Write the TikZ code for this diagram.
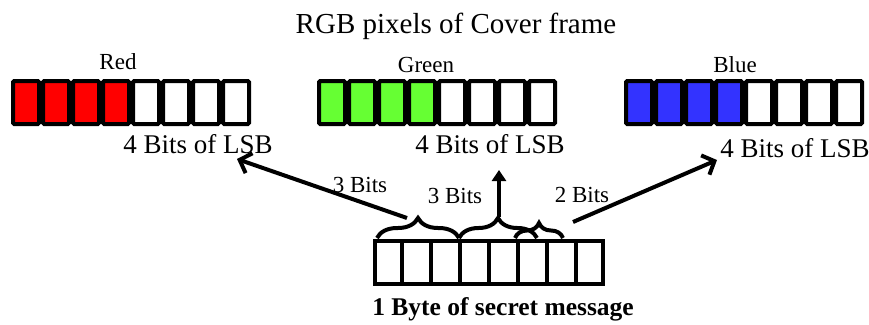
\documentclass[tikz,border=0pt]{standalone}
\usepackage{fontspec}
\setmainfont{Liberation Serif}
\usetikzlibrary{arrows.meta,decorations.pathreplacing}
\definecolor{pixred}{RGB}{255,0,0}
\definecolor{pixgreen}{RGB}{102,255,51}
\definecolor{pixblue}{RGB}{51,51,255}
\begin{document}
\begin{tikzpicture}[x=1pt,y=-1pt,
  cell/.style={draw=black, line width=4pt, rounded corners=1.2pt, inner sep=0pt,
    minimum width=26pt, minimum height=43pt},
  lbl/.style={anchor=base, inner sep=0pt},
  bitbrace/.style={decorate, line width=4pt, decoration={brace, amplitude=#1}},
  barb/.style={line width=4pt, -{Straight Barb[length=10pt,width=21pt]}},
  uparr/.style={line width=4pt, -{Triangle[length=11pt,width=14pt]}}]
\useasboundingbox (0,0) rectangle (869,324);

% title and channel labels
\node[lbl, font=\fontsize{29}{32}\selectfont] (title) at (456,33) {RGB pixels of Cover frame};
\node[lbl, font=\fontsize{23}{26}\selectfont] (red) at (118,69) {Red};
\node[lbl, font=\fontsize{23}{26}\selectfont] (green) at (426,72) {Green};
\node[lbl, font=\fontsize{23}{26}\selectfont] (blue) at (735,72) {Blue};

% pixel bars
\foreach \i in {0,...,7}{
  \ifnum\i<4
    \node[cell, fill=pixred]   (r\i) at (26+30*\i,102.5) {};
    \node[cell, fill=pixgreen] (g\i) at (332+30*\i,102.5) {};
    \node[cell, fill=pixblue]  (b\i) at (639+30*\i,102.5) {};
  \else
    \node[cell, fill=white] (r\i) at (26+30*\i,102.5) {};
    \node[cell, fill=white] (g\i) at (332+30*\i,102.5) {};
    \node[cell, fill=white] (b\i) at (639+30*\i,102.5) {};
  \fi
}

% LSB labels
\node[lbl, font=\fontsize{27}{30}\selectfont] (lsbR) at (198,153) {4 Bits of LSB};
\node[lbl, font=\fontsize{27}{30}\selectfont] (lsbG) at (490,153) {4 Bits of LSB};
\node[lbl, font=\fontsize{27}{30}\selectfont] (lsbB) at (795,157) {4 Bits of LSB};

% secret byte
\node[draw, line width=4pt, inner sep=0pt, minimum width=228pt, minimum height=43pt] (byte) at (489,262.5) {};
\foreach \i in {1,...,7}{
  \draw[line width=4pt] (373+29*\i,239) -- (373+29*\i,286);
}
\node[lbl, font=\bfseries\fontsize{25.5}{28}\selectfont] (secret) at (503,315) {1 Byte of secret message};

% braces
\draw[bitbrace=20pt] (377,238) -- (459,238);
\draw[bitbrace=20pt] (459,238) -- (537,238);
\draw[bitbrace=15pt] (515,238) -- (563,238);

% arrows
\coordinate (s1) at (407,218);
\coordinate (s2) at (499,217);
\coordinate (s3) at (573,222);
\coordinate (t1) at (237,159);
\coordinate (t2) at (499,170);
\coordinate (t3) at (717,160);
\draw[barb] (s1) -- (t1);
\draw[uparr] (s2) -- (t2);
\draw[barb] (s3) -- (t3);

% bit labels
\node[lbl, font=\fontsize{23}{26}\selectfont] (bits1) at (360,192) {3 Bits};
\node[lbl, font=\fontsize{23}{26}\selectfont] (bits2) at (455,203) {3 Bits};
\node[lbl, font=\fontsize{23}{26}\selectfont] (bits3) at (582,202) {2 Bits};
\end{tikzpicture}
\end{document}
